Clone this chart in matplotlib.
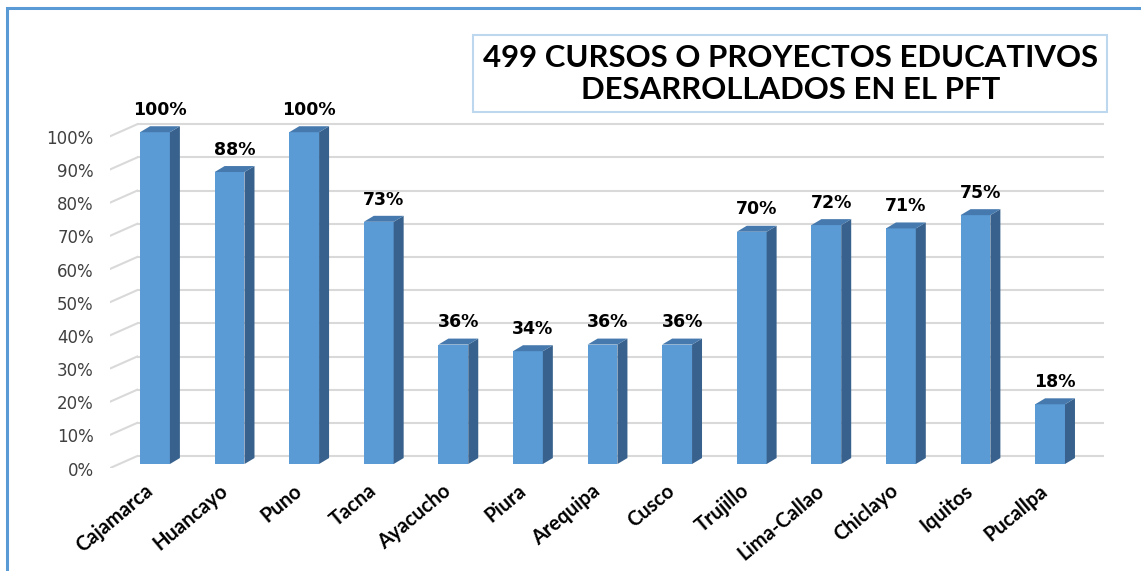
import numpy as np
import matplotlib
matplotlib.use('Agg')
import matplotlib.pyplot as plt
from matplotlib.patches import Polygon, Rectangle

# data
sedes = ['Cajamarca', 'Huancayo', 'Puno', 'Tacna', 'Ayacucho', 'Piura', 'Arequipa',
         'Cusco', 'Trujillo', 'Lima-Callao', 'Chiclayo', 'Iquitos', 'Pucallpa']
porcentaje = [100, 88, 100, 73, 36, 34, 36, 36, 70, 72, 71, 75, 18]
yticks = [0, 10, 20, 30, 40, 50, 60, 70, 80, 90, 100]
titulo = '499 CURSOS O PROYECTOS EDUCATIVOS\nDESARROLLADOS EN EL PFT'

# 3d look (data units)
gdx, gdy = 0.362, 3.6      # back wall offset
bdx, bdy = 0.134, 1.8      # bar depth
base = 1.2                 # bars sit a bit behind the front edge
w = 0.40
c_front, c_side, c_top = '#5B9BD5', '#38628D', '#4679AD'
grid_c = '#D9D9D9'

fig = plt.figure(figsize=(11.41, 5.71), dpi=100)
ax = fig.add_axes([0.0966, 0.1804, 0.876, 0.6392])
ax.set_xlim(-0.6, 12.8)
ax.set_ylim(0, 110)
ax.axis('off')

x0 = -0.6
x1 = 12.36
for t in yticks:
    # back wall line + floor diagonal
    ax.plot([x0 + gdx, x1 + gdx], [t + gdy, t + gdy], color=grid_c, lw=1.5, zorder=1,
            solid_capstyle='butt')
    ax.plot([x0, x0 + gdx], [t, t + gdy], color=grid_c, lw=1.5, zorder=1)
    ax.text(x0 - 0.22, t - 0.8, f'{t}%', ha='right', va='center', fontsize=12,
            color='#404040', family='DejaVu Sans')

x = np.arange(len(sedes))
for xi, v in zip(x, porcentaje):
    l, r = xi - w / 2, xi + w / 2
    b, tp = base, base + v
    ax.add_patch(Rectangle((l, b), w, v, facecolor=c_front, edgecolor='none', zorder=3))
    ax.add_patch(Polygon([[r, b], [r + bdx, b + bdy], [r + bdx, tp + bdy], [r, tp]],
                         closed=True, facecolor=c_side, edgecolor='none', zorder=3))
    ax.add_patch(Polygon([[l, tp], [r, tp], [r + bdx, tp + bdy], [l + bdx, tp + bdy]],
                         closed=True, facecolor=c_top, edgecolor='none', zorder=3))
    ax.text(xi + bdx / 2, tp + bdy + 2.2, f'{v}%', ha='center', va='bottom',
            fontsize=12.5, fontweight='bold', color='black', family='DejaVu Sans')
    ax.text(xi - 0.15, -3.8, sedes[xi], ha='right', va='top', rotation=40,
            rotation_mode='anchor', fontsize=14.5, fontweight='bold', color='black',
            family='Lato', clip_on=False)

# title box
fig.patches.append(Rectangle((473 / 1141, 1 - 112 / 571), 634 / 1141, 77 / 571,
                             transform=fig.transFigure, facecolor='white',
                             edgecolor='#BDD7EE', lw=1.5))
fig.text(791 / 1141, 1 - 74 / 571, titulo, ha='center', va='center', fontsize=22.4,
         fontweight='bold', family='Lato', linespacing=1.2, color='black')

# outer frame (only left and top visible)
fig.patches.append(Rectangle((7 / 1141, -0.05), 1.1, 1.05 - 8 / 571,
                             transform=fig.transFigure, facecolor='none',
                             edgecolor='#5B9BD5', lw=2.2))

fig.savefig('out.png', dpi=100)
